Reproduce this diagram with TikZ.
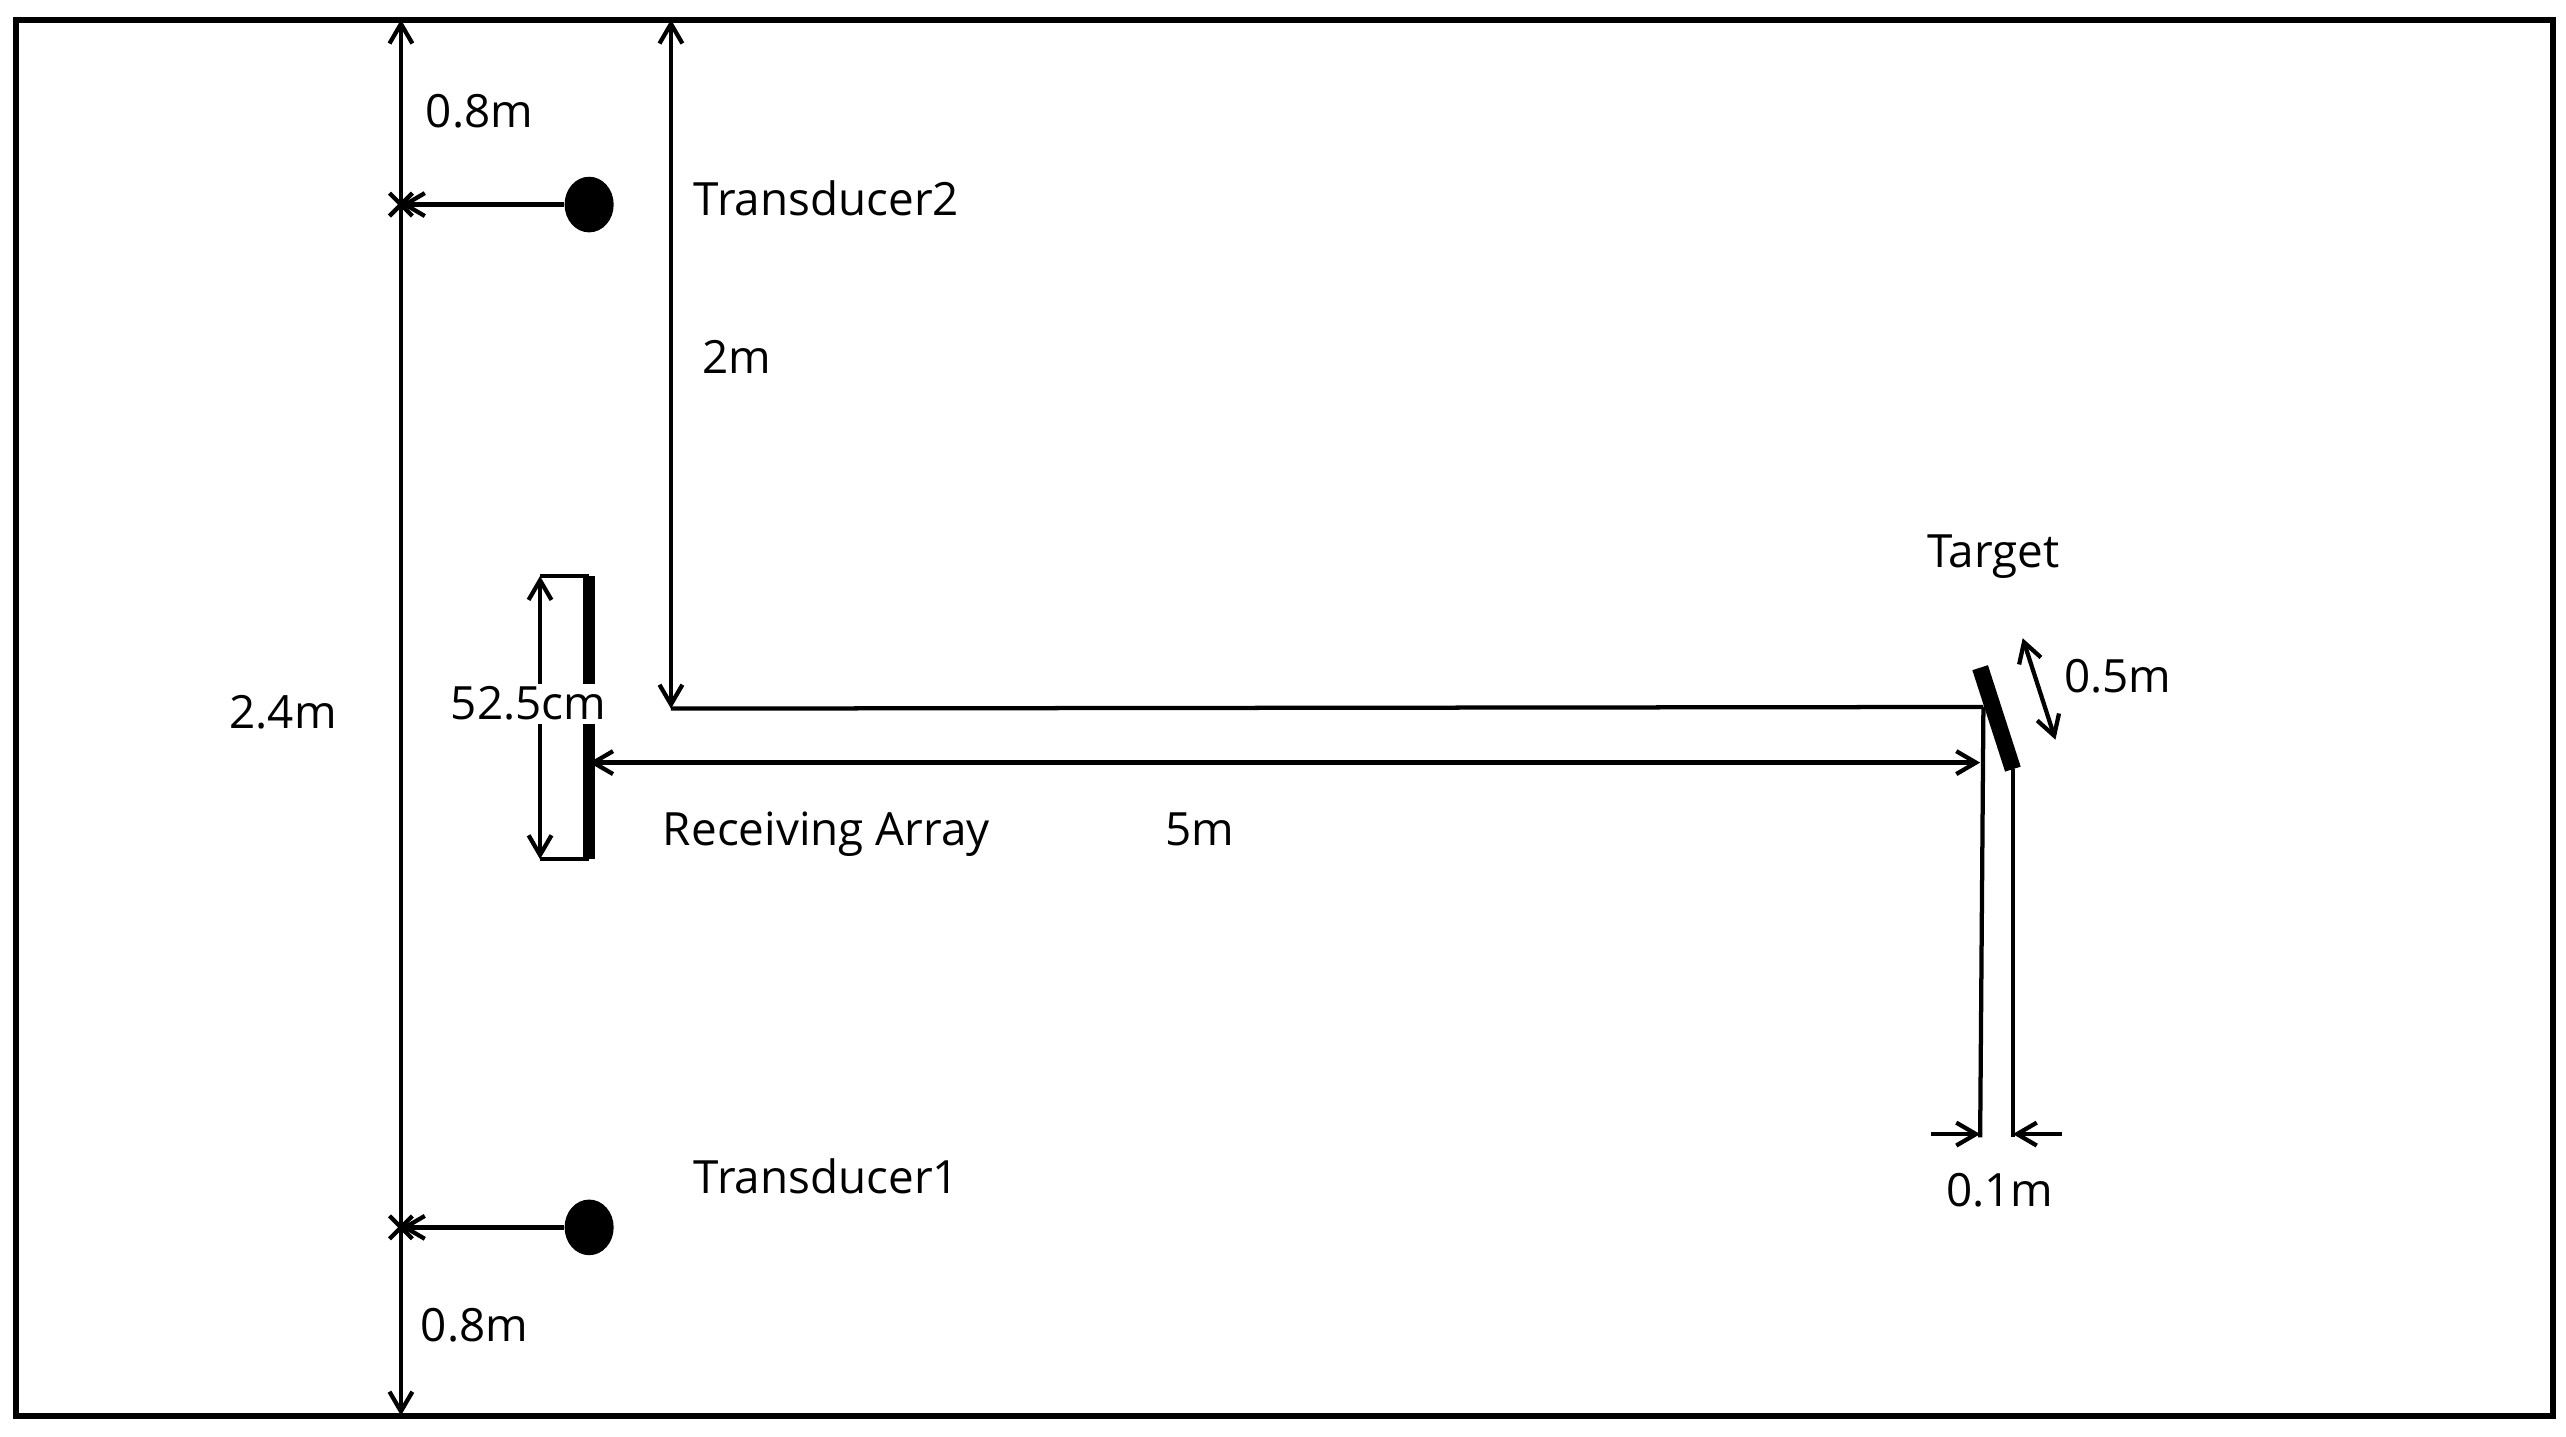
\documentclass[tikz,border=0pt]{standalone}
\usepackage{fontspec}
\setmainfont{Open Sans}
\usetikzlibrary{arrows.meta,shapes.geometric}
\begin{document}
\begin{tikzpicture}[x=0.5pt,y=-0.5pt,
  dim/.style={line width=1.3pt,{Straight Barb[length=6pt,width=7pt]}-{Straight Barb[length=6pt,width=7pt]}},
  dimr/.style={line width=1.3pt,-{Straight Barb[length=6pt,width=7pt]}},
  ln/.style={line width=1.3pt},
  lbl/.style={font=\fontsize{14}{16}\selectfont,inner sep=0pt},
  dot/.style={fill=black,ellipse,minimum width=15pt,minimum height=17pt,inner sep=0pt}]
\useasboundingbox (0,0) rectangle (1568,878);
\draw[line width=1.8pt] (10,12) rectangle (1560,865);
% left 2.4m
\coordinate (t24) at (245,12); \coordinate (b24) at (245,865);
\draw[dim] (t24) -- (b24);
\draw[ln] (238,118)--(252,132) (238,132)--(252,118) (238,743)--(252,757) (238,757)--(252,743);
\node[lbl] (l24) at (173,435) {2.4m};
% transducers
\node[dot] (tr2) at (360,125) {};
\node[dot] (tr1) at (360,750) {};
\coordinate (a2) at (245,125); \coordinate (a1) at (245,750);
\draw[dimr] (tr2.west) -- (a2);
\draw[dimr] (tr1.west) -- (a1);
\node[lbl] (l08a) at (293,68) {0.8m};
\node[lbl] (l08b) at (290,810) {0.8m};
\node[lbl] (ltr2) at (505,121) {Transducer2};
\node[lbl] (ltr1) at (505,719) {Transducer1};
% 2m
\coordinate (t2) at (410,12); \coordinate (b2) at (410,433);
\draw[dim] (t2) -- (b2);
\node[lbl] (l2) at (450,218) {2m};
% receiving array
\coordinate (ra1) at (360,352); \coordinate (ra2) at (360,525);
\draw[line width=3.5pt] (ra1) -- (ra2);
\draw[ln] (330,352) -- (ra1) (330,525) -- (ra2);
\coordinate (d1) at (330,352); \coordinate (d2) at (330,525);
\draw[dim] (d1) -- (d2);
\node[lbl,fill=white,inner sep=1pt] (l525) at (323,430) {52.5cm};
\node[lbl] (lra) at (505,510) {Receiving Array};
% target
\coordinate (tg1) at (1210,408); \coordinate (tg2) at (1230,470);
\draw[line width=5pt] (tg1) -- (tg2);
\node[lbl] (ltg) at (1218,340) {Target};
\draw[dim] (1236,390) -- (1256,452);
\node[lbl] (l05) at (1294,413) {0.5m};
% axis line
\coordinate (tc) at (1212,432);
\draw[ln] (b2) -- (tc);
% 5m
\coordinate (f1) at (360,466); \coordinate (f2) at (1210,466);
\draw[dim] (f1) -- (f2);
\node[lbl] (l5) at (733,507) {5m};
% 0.1m
\coordinate (v1) at (1210,695); \coordinate (v2) at (1230,695);
\draw[ln] (tc) -- (v1);
\draw[ln] (tg2) -- (v2);
\coordinate (w1) at (1180,693); \coordinate (w2) at (1260,693);
\draw[dimr] (w1) -- (1210,693);
\draw[dimr] (w2) -- (1230,693);
\node[lbl] (l01) at (1222,727) {0.1m};
\end{tikzpicture}
\end{document}
